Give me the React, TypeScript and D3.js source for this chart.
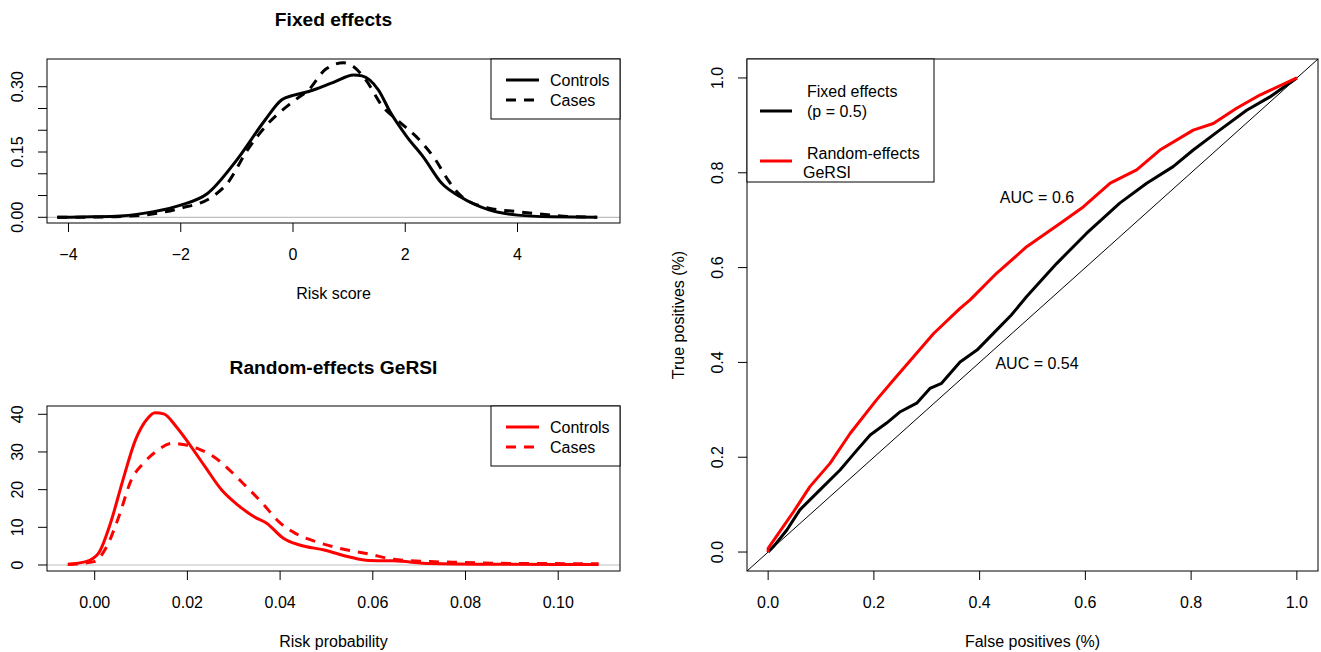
import React from 'react';
import * as d3 from 'd3';

type Pt = [number, number];

// Fixed effects density (Risk score)
const fixedControls: Pt[] = [
  [-4.2, 0], [-3.6, 0.001], [-3.07, 0.003], [-2.48, 0.013], [-2.0, 0.028], [-1.53, 0.054],
  [-1.0, 0.132], [-0.5, 0.223], [-0.2, 0.27], [0, 0.28], [0.28, 0.289], [0.72, 0.31],
  [1.08, 0.327], [1.23, 0.325], [1.52, 0.293], [1.74, 0.24], [2.03, 0.185], [2.32, 0.139],
  [2.65, 0.078], [2.98, 0.047], [3.49, 0.017], [4.0, 0.005], [4.6, 0.001], [5.42, 0],
];
const fixedCases: Pt[] = [
  [-4.2, 0], [-3.6, 0.0005], [-3.07, 0.002], [-2.48, 0.008], [-2.0, 0.021], [-1.44, 0.047],
  [-1.17, 0.078], [-0.81, 0.155], [-0.44, 0.216], [0, 0.266], [0.28, 0.293], [0.58, 0.34],
  [0.9, 0.355], [1.08, 0.346], [1.3, 0.315], [1.6, 0.254], [1.89, 0.22], [2.25, 0.178],
  [2.54, 0.132], [2.76, 0.086], [2.98, 0.051], [3.49, 0.021], [4.0, 0.013], [4.36, 0.008],
  [4.9, 0.002], [5.42, 0],
];

// Random-effects GeRSI density (Risk probability)
const randControls: Pt[] = [
  [-0.0058, 0.2], [-0.0019, 0.9], [0.0008, 3.1], [0.0034, 11.1], [0.0061, 22.6], [0.0088, 33.2],
  [0.0114, 38.9], [0.013, 40.4], [0.0149, 40.1], [0.0176, 36.7], [0.0203, 32.3], [0.0238, 26.1],
  [0.0274, 19.9], [0.0309, 15.9], [0.0344, 12.8], [0.0371, 11.1], [0.0407, 7.1], [0.0442, 5.3],
  [0.0495, 4.0], [0.0548, 2.2], [0.0592, 1.2], [0.0645, 1.1], [0.0725, 0.4], [0.0858, 0.2],
  [0.1087, 0.1],
];
const randCases: Pt[] = [
  [-0.0058, 0.1], [-0.0001, 0.9], [0.0026, 4.9], [0.0052, 12.8], [0.0079, 22.6], [0.0105, 27.0],
  [0.0132, 30.1], [0.0167, 32.3], [0.0194, 31.9], [0.023, 30.5], [0.0256, 28.8], [0.0291, 25.2],
  [0.0327, 20.8], [0.0362, 16.4], [0.0397, 11.5], [0.0433, 8.4], [0.0477, 6.2], [0.053, 4.4],
  [0.0592, 2.9], [0.0645, 1.5], [0.0725, 0.9], [0.0796, 0.7], [0.0902, 0.4], [0.1087, 0.35],
];

// ROC curves
const rocFixed: Pt[] = [
  [0, 0], [0.012, 0.014], [0.035, 0.046], [0.06, 0.089], [0.098, 0.131], [0.136, 0.173],
  [0.168, 0.215], [0.193, 0.247], [0.224, 0.272], [0.25, 0.296], [0.281, 0.314], [0.306, 0.345],
  [0.328, 0.356], [0.363, 0.401], [0.395, 0.426], [0.432, 0.468], [0.46, 0.5], [0.489, 0.539],
  [0.546, 0.609], [0.602, 0.672], [0.665, 0.736], [0.716, 0.778], [0.766, 0.813], [0.804, 0.848],
  [0.854, 0.89], [0.905, 0.932], [0.949, 0.96], [1, 1],
];
const rocRandom: Pt[] = [
  [0, 0], [0, 0.008], [0.013, 0.029], [0.048, 0.085], [0.079, 0.138], [0.117, 0.187],
  [0.155, 0.25], [0.205, 0.321], [0.237, 0.363], [0.275, 0.412], [0.313, 0.461], [0.363, 0.514],
  [0.382, 0.532], [0.432, 0.588], [0.489, 0.644], [0.552, 0.693], [0.596, 0.728], [0.647, 0.778],
  [0.697, 0.806], [0.741, 0.848], [0.804, 0.89], [0.842, 0.904], [0.886, 0.936], [0.93, 0.964],
  [1, 1],
];

const fixedXTicks = [-4, -2, 0, 2, 4];
const fixedYTicks = [0, 0.05, 0.1, 0.15, 0.2, 0.25, 0.3];
const fixedYLabeled = [0, 0.15, 0.3];
const randXTicks = [0, 0.02, 0.04, 0.06, 0.08, 0.1];
const randYTicks = [0, 10, 20, 30, 40];
const rocTicks = [0, 0.2, 0.4, 0.6, 0.8, 1.0];

const FONT = '"Liberation Sans", Arial, Helvetica, sans-serif';
const FS = 16;

type Box = { l: number; r: number; t: number; b: number };

function fmtMinus(s: string) {
  return s.replace('-', '\u2212');
}

function Axes({ box, x, y, xTicks, yTicks, yLabeled, xFmt, yFmt, xLabel, yLabel }: any) {
  const tl = 9;
  return (
    <g fontFamily={FONT} fontSize={FS} fill="#000">
      <rect x={box.l} y={box.t} width={box.r - box.l} height={box.b - box.t} fill="none" stroke="#000" strokeWidth={1} />
      {xTicks.map((v: number) => (
        <g key={'x' + v}>
          <line x1={x(v)} x2={x(v)} y1={box.b} y2={box.b + tl} stroke="#000" />
          <text x={x(v)} y={box.b + 31} textAnchor="middle" dominantBaseline="central">{fmtMinus(xFmt(v))}</text>
        </g>
      ))}
      {yTicks.map((v: number) => (
        <g key={'y' + v}>
          <line x1={box.l - tl} x2={box.l} y1={y(v)} y2={y(v)} stroke="#000" />
          {yLabeled.includes(v) && (
            <text transform={`translate(${box.l - 30},${y(v)}) rotate(-90)`} textAnchor="middle" dominantBaseline="central">{yFmt(v)}</text>
          )}
        </g>
      ))}
      {xLabel && (
        <text x={(box.l + box.r) / 2} y={box.b + 70} textAnchor="middle" dominantBaseline="central">{xLabel}</text>
      )}
      {yLabel && (
        <text transform={`translate(${box.l - 69},${(box.t + box.b) / 2}) rotate(-90)`} textAnchor="middle" dominantBaseline="central">{yLabel}</text>
      )}
    </g>
  );
}

export default function App() {
  // Panel boxes
  const b1: Box = { l: 47, r: 620, t: 59, b: 223 };
  const b2: Box = { l: 47, r: 620, t: 406, b: 571 };
  const b3: Box = { l: 747, r: 1318, t: 59, b: 571 };

  const x1 = d3.scaleLinear().domain([-4.383, 5.826]).range([b1.l, b1.r]);
  const y1 = d3.scaleLinear().domain([-0.0131, 0.3637]).range([b1.b, b1.t]);
  const x2 = d3.scaleLinear().domain([-0.01029, 0.11333]).range([b2.l, b2.r]);
  const y2 = d3.scaleLinear().domain([-1.593, 42.2]).range([b2.b, b2.t]);
  const x3 = d3.scaleLinear().domain([-0.04, 1.04]).range([b3.l, b3.r]);
  const y3 = d3.scaleLinear().domain([-0.04, 1.04]).range([b3.b, b3.t]);

  const mk = (xs: any, ys: any, curve: any) =>
    d3.line<Pt>().x((d) => xs(d[0])).y((d) => ys(d[1])).curve(curve);

  const l1 = mk(x1, y1, d3.curveMonotoneX);
  const l2 = mk(x2, y2, d3.curveMonotoneX);
  const l3 = mk(x3, y3, d3.curveLinear);

  const dash = '10,8';

  return (
    <svg width={1321} height={652} style={{ position: 'absolute', left: 0, top: 0, background: '#fff' }} fontFamily={FONT}>
      <rect x={0} y={0} width={1321} height={652} fill="#fff" />
      {/* Panel 1 */}
      <text x={(b1.l + b1.r) / 2} y={19} textAnchor="middle" dominantBaseline="central" fontWeight="bold" fontSize={19.2}>Fixed effects</text>
      <defs>
        <clipPath id="c1"><rect x={b1.l} y={b1.t} width={b1.r - b1.l} height={b1.b - b1.t} /></clipPath>
        <clipPath id="c2"><rect x={b2.l} y={b2.t} width={b2.r - b2.l} height={b2.b - b2.t} /></clipPath>
        <clipPath id="c3"><rect x={b3.l} y={b3.t} width={b3.r - b3.l} height={b3.b - b3.t} /></clipPath>
      </defs>
      <g clipPath="url(#c1)">
        <line x1={b1.l} x2={b1.r} y1={y1(0)} y2={y1(0)} stroke="#bebebe" strokeWidth={1.2} />
        <path d={l1(fixedControls) || ''} fill="none" stroke="#000" strokeWidth={3} strokeLinejoin="round" />
        <path d={l1(fixedCases) || ''} fill="none" stroke="#000" strokeWidth={3} strokeDasharray={dash} strokeLinejoin="round" />
      </g>
      <Axes box={b1} x={x1} y={y1} xTicks={fixedXTicks} yTicks={fixedYTicks} yLabeled={fixedYLabeled}
        xFmt={(v: number) => String(v)} yFmt={d3.format('.2f')} xLabel="Risk score" />
      <g fontSize={FS}>
        <rect x={491} y={b1.t} width={b1.r - 491} height={60} fill="#fff" stroke="#000" />
        <line x1={506} x2={539} y1={80} y2={80} stroke="#000" strokeWidth={3} />
        <line x1={506} x2={539} y1={100} y2={100} stroke="#000" strokeWidth={3} strokeDasharray={dash} />
        <text x={550} y={80} dominantBaseline="central">Controls</text>
        <text x={550} y={100} dominantBaseline="central">Cases</text>
      </g>

      {/* Panel 2 */}
      <text x={(b2.l + b2.r) / 2} y={367} textAnchor="middle" dominantBaseline="central" fontWeight="bold" fontSize={19.2}>Random-effects GeRSI</text>
      <g clipPath="url(#c2)">
        <line x1={b2.l} x2={b2.r} y1={y2(0)} y2={y2(0)} stroke="#bebebe" strokeWidth={1.2} />
        <path d={l2(randControls) || ''} fill="none" stroke="#ff0000" strokeWidth={3} strokeLinejoin="round" />
        <path d={l2(randCases) || ''} fill="none" stroke="#ff0000" strokeWidth={3} strokeDasharray={dash} strokeLinejoin="round" />
      </g>
      <Axes box={b2} x={x2} y={y2} xTicks={randXTicks} yTicks={randYTicks} yLabeled={randYTicks}
        xFmt={d3.format('.2f')} yFmt={(v: number) => String(v)} xLabel="Risk probability" />
      <g fontSize={FS}>
        <rect x={491} y={b2.t} width={b2.r - 491} height={60} fill="#fff" stroke="#000" />
        <line x1={506} x2={539} y1={427} y2={427} stroke="#ff0000" strokeWidth={3} />
        <line x1={506} x2={539} y1={447} y2={447} stroke="#ff0000" strokeWidth={3} strokeDasharray={dash} />
        <text x={550} y={427} dominantBaseline="central">Controls</text>
        <text x={550} y={447} dominantBaseline="central">Cases</text>
      </g>

      {/* Panel 3: ROC */}
      <g clipPath="url(#c3)">
        <line x1={x3(-0.04)} y1={y3(-0.04)} x2={x3(1.04)} y2={y3(1.04)} stroke="#000" strokeWidth={1} />
        <path d={l3(rocFixed) || ''} fill="none" stroke="#000" strokeWidth={3} strokeLinejoin="round" />
        <path d={l3(rocRandom) || ''} fill="none" stroke="#ff0000" strokeWidth={3} strokeLinejoin="round" />
      </g>
      <Axes box={b3} x={x3} y={y3} xTicks={rocTicks} yTicks={rocTicks} yLabeled={rocTicks}
        xFmt={d3.format('.1f')} yFmt={d3.format('.1f')} xLabel="False positives (%)" yLabel="True positives (%)" />
      <g fontSize={FS}>
        <text x={1037} y={197} textAnchor="middle" dominantBaseline="central">AUC = 0.6</text>
        <text x={1037} y={363} textAnchor="middle" dominantBaseline="central">AUC = 0.54</text>
        <rect x={b3.l} y={b3.t} width={934 - b3.l} height={182 - b3.t} fill="#fff" stroke="#000" />
        <line x1={760} x2={792} y1={111} y2={111} stroke="#000" strokeWidth={3} />
        <line x1={760} x2={792} y1={161} y2={161} stroke="#ff0000" strokeWidth={3} />
        <text x={807} y={91} dominantBaseline="central">Fixed effects</text>
        <text x={807} y={111} dominantBaseline="central">(p = 0.5)</text>
        <text x={807} y={153} dominantBaseline="central">Random-effects</text>
        <text x={803} y={172} dominantBaseline="central">GeRSI</text>
      </g>
    </svg>
  );
}
